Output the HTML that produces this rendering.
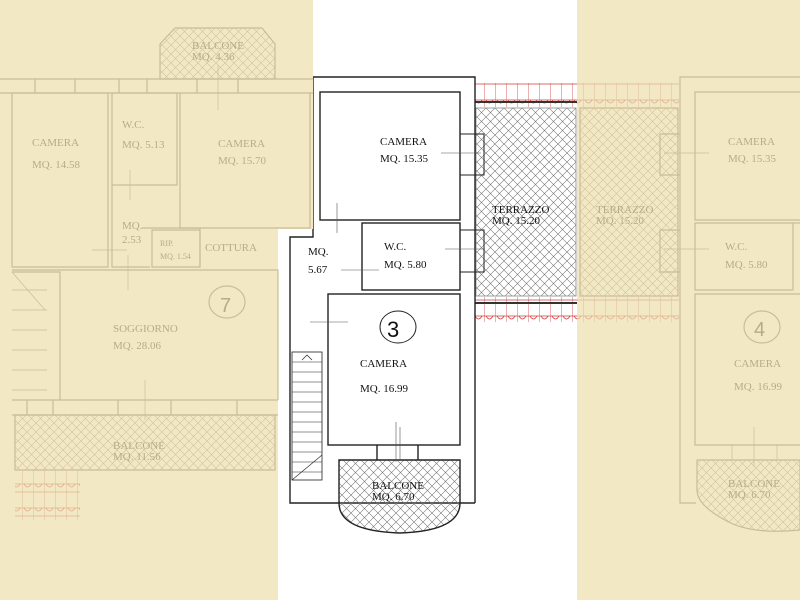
<!DOCTYPE html>
<html><head><meta charset="utf-8"><style>
html,body{margin:0;padding:0;background:#fff}
svg{display:block}
text{font-family:"Liberation Serif",serif;font-size:11px}
</style></head><body>
<svg width="800" height="600" viewBox="0 0 800 600" xmlns="http://www.w3.org/2000/svg">
<defs>
<pattern id="hb" width="9" height="9" patternUnits="userSpaceOnUse">
<path d="M0 0L9 9M9 0L0 9" stroke="#777" stroke-width="0.6"/></pattern>
<pattern id="hy" width="9" height="9" patternUnits="userSpaceOnUse">
<path d="M0 0L9 9M9 0L0 9" stroke="#cfc39d" stroke-width="0.6"/></pattern>
<pattern id="tr" width="11" height="24" patternUnits="userSpaceOnUse">
<path d="M0 0V24M0 4H11M0 12H11" stroke="#d04040" stroke-width="0.8" fill="none"/>
<path d="M2 4Q5.5 10 9 4" stroke="#d04040" stroke-width="0.8" fill="none"/></pattern>
<pattern id="ty" width="11" height="24" patternUnits="userSpaceOnUse">
<path d="M0 0V24M0 4H11M0 12H11" stroke="#e0b090" stroke-width="0.8" fill="none"/>
<path d="M2 4Q5.5 10 9 4" stroke="#e0b090" stroke-width="0.8" fill="none"/></pattern>
</defs>
<rect width="800" height="600" fill="#fff"/>

<!-- CENTER PLAN -->
<g fill="none" stroke="#222" stroke-width="1.4">
<rect x="475" y="83" width="102" height="24" fill="url(#tr)" stroke="none"/>
<line x1="475" y1="102" x2="577" y2="102" stroke="#333" stroke-width="2"/>
<rect x="475" y="297" width="102" height="25" fill="url(#tr)" stroke="none"/>
<line x1="475" y1="303" x2="577" y2="303" stroke="#333" stroke-width="2"/>
<rect x="476" y="108" width="100" height="188" fill="url(#hb)" stroke="#888" stroke-width="0.8"/>
<path d="M313 77H475V503"/>
<path d="M313 77V237H290V503H475"/>
<rect x="320" y="92" width="140" height="128"/>
<rect x="362" y="223" width="98" height="67"/>
<rect x="328" y="294" width="132" height="151"/>
<path d="M460 134h24v41h-24M460 230h24v42h-24" stroke-width="1"/>
<path d="M339 460H460V503Q460 531 400 533Q339 531 339 503Z" fill="url(#hb)"/>
<path d="M377 445v15M418 445v15" />
<rect x="292" y="352" width="30" height="128" stroke-width="0.8"/>
<path d="M292 362h30M292 372h30M292 382h30M292 392h30M292 402h30M292 412h30M292 422h30M292 432h30M292 442h30M292 452h30M292 462h30M292 472h30M292 480L322 455" stroke-width="0.6"/>
<path d="M302 360l5 -5l5 5" stroke-width="0.7"/>
<path d="M441 153h40M445 249h40M341 270h38M310 322h38M400 427v34M337 203v30M396 422v40" stroke="#555" stroke-width="0.6"/>
<ellipse cx="398" cy="327" rx="18" ry="16" stroke-width="1"/>
</g>
<g fill="#111">
<text x="380" y="145">CAMERA</text><text x="380" y="162">MQ.  15.35</text>
<text x="492" y="213">TERRAZZO</text><text x="492" y="224">MQ. 15.20</text>
<text x="384" y="250">W.C.</text><text x="384" y="268">MQ. 5.80</text>
<text x="308" y="255">MQ.</text><text x="308" y="273">5.67</text>
<text x="360" y="367">CAMERA</text><text x="360" y="392">MQ. 16.99</text>
<text x="372" y="489">BALCONE</text><text x="372" y="500">MQ. 6.70</text>
<text x="387" y="337" style="font-size:22px;font-family:'Liberation Sans',sans-serif">3</text>
</g>

<!-- LEFT YELLOW PANEL -->
<rect x="0" y="0" width="278" height="600" fill="#f2e9c4"/>
<rect x="278" y="0" width="35" height="229" fill="#f2e9c4"/>
<g fill="none" stroke="#c9bd98" stroke-width="1.2">
<path d="M175 28H262L275 44V79H160V44Z" fill="url(#hy)"/>
<path d="M0 79H313M0 93H313"/>
<path d="M35 79v14M75 79v14M119 79v14M147 79v14M197 79v14M238 79v14"/>
<rect x="12" y="93" width="96" height="174"/>
<rect x="112" y="93" width="65" height="92"/>
<path d="M180 93V228H310V93"/>
<path d="M112 185V267H150M142 228H200V267"/>
<path d="M152 230H200V267H152Z"/>
<path d="M12 272H60V400M12 270H278V400"/>
<path d="M12 400H278M12 415H278"/>
<path d="M27 400v15M53 400v15M118 400v15M171 400v15M237 400v15"/>
<rect x="15" y="415" width="260" height="55" fill="url(#hy)"/>
<rect x="15" y="470" width="65" height="50" fill="url(#ty)" stroke="none"/>
<path d="M12 272L45 310M12 290h35M12 310h35M12 330h35M12 350h35M12 370h35M12 390h35" stroke-width="0.7"/>
<path d="M130 170v30M92 250h35M128 255v35M145 380v40M218 65v45" stroke-width="0.7"/>
<ellipse cx="227" cy="302" rx="18" ry="16"/>
</g>
<g fill="#b8ab87">
<text x="192" y="49">BALCONE</text><text x="192" y="60">MQ. 4.36</text>
<text x="32" y="146">CAMERA</text><text x="32" y="168">MQ. 14.58</text>
<text x="122" y="128">W.C.</text><text x="122" y="148">MQ. 5.13</text>
<text x="218" y="147">CAMERA</text><text x="218" y="164">MQ. 15.70</text>
<text x="122" y="229">MQ.</text><text x="122" y="243">2.53</text>
<text x="160" y="246" style="font-size:8px">RIP.</text><text x="160" y="259" style="font-size:8px">MQ. 1.54</text>
<text x="205" y="251">COTTURA</text>
<text x="113" y="332">SOGGIORNO</text><text x="113" y="349">MQ. 28.06</text>
<text x="113" y="449">BALCONE</text><text x="113" y="460">MQ. 11.56</text>
<text x="220" y="312" style="font-size:20px;font-family:'Liberation Sans',sans-serif">7</text>
</g>

<!-- RIGHT YELLOW PANEL -->
<rect x="577" y="0" width="223" height="600" fill="#f2e9c4"/>
<g fill="none" stroke="#c9bd98" stroke-width="1.2">
<rect x="577" y="83" width="102" height="24" fill="url(#ty)" stroke="none"/>
<rect x="577" y="297" width="102" height="25" fill="url(#ty)" stroke="none"/>
<rect x="580" y="108" width="98" height="188" fill="url(#hy)"/>
<path d="M800 77H680V503H696"/>
<path d="M800 92H695V220H800M800 223H695V290H793V223M800 294H695V445H800"/>
<path d="M680 134h-20v41h20M680 230h-20v42h20"/>
<path d="M697 460H800V530Q750 535 725 520Q697 505 697 490Z" fill="url(#hy)"/>
<path d="M732 445v15M777 445v15M664 153h45M664 249h45M754 427v40" stroke-width="0.7"/>
<ellipse cx="762" cy="327" rx="18" ry="16"/>
</g>
<g fill="#b8ab87">
<text x="596" y="213">TERRAZZO</text><text x="596" y="224">MQ. 15.20</text>
<text x="728" y="145">CAMERA</text><text x="728" y="162">MQ.  15.35</text>
<text x="725" y="250">W.C.</text><text x="725" y="268">MQ. 5.80</text>
<text x="734" y="367">CAMERA</text><text x="734" y="390">MQ. 16.99</text>
<text x="728" y="487">BALCONE</text><text x="728" y="498">MQ. 6.70</text>
<text x="754" y="336" style="font-size:20px;font-family:'Liberation Sans',sans-serif">4</text>
</g>
</svg>
</body></html>
